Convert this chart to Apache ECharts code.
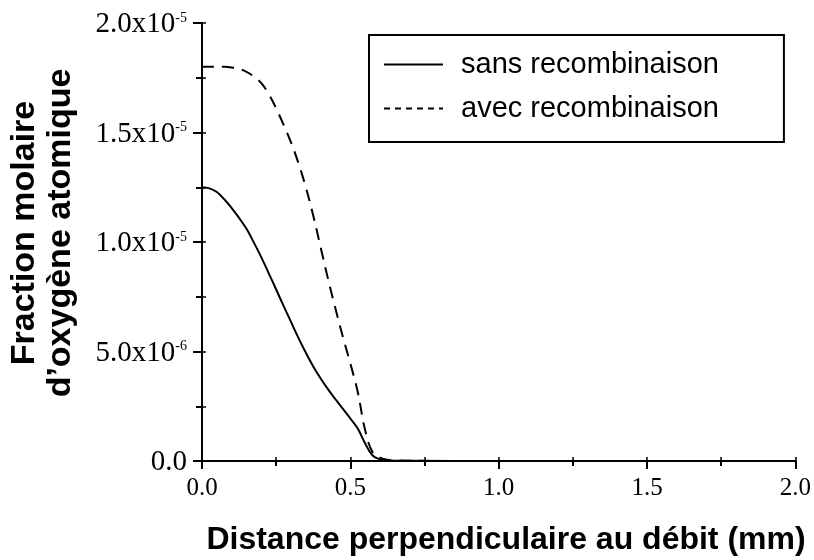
<!DOCTYPE html>
<html>
<head>
<meta charset="utf-8">
<script src="https://cdn.jsdelivr.net/npm/echarts/dist/echarts.min.js"></script>
<style>
html,body{margin:0;padding:0;background:#fff;}
#chart{width:814px;height:560px;}
</style>
</head>
<body>
<div id="chart"></div>
<script>
// distance (mm) / fraction molaire
var distSans = [0, 0.025, 0.05, 0.075, 0.1, 0.125, 0.15, 0.175, 0.2, 0.225, 0.25, 0.275, 0.3, 0.325, 0.35, 0.375, 0.4, 0.425, 0.45, 0.475, 0.5, 0.525, 0.55, 0.575, 0.6, 0.625, 0.65, 0.7, 1.0, 2.0];
var fracSans = [1.25e-5, 1.245e-5, 1.228e-5, 1.195e-5, 1.155e-5, 1.11e-5, 1.06e-5, 0.997e-5, 0.93e-5, 0.857e-5, 0.783e-5, 0.708e-5, 0.635e-5, 0.562e-5, 0.494e-5, 0.432e-5, 0.377e-5, 0.327e-5, 0.282e-5, 0.238e-5, 0.194e-5, 0.148e-5, 0.08e-5, 0.025e-5, 0.008e-5, 0.003e-5, 0.0015e-5, 0.001e-5, 0, 0];

var distAvec = [0, 0.025, 0.05, 0.075, 0.1, 0.125, 0.15, 0.175, 0.2, 0.225, 0.25, 0.275, 0.3, 0.325, 0.35, 0.375, 0.4, 0.425, 0.45, 0.475, 0.5, 0.525, 0.55, 0.575, 0.6, 0.625, 0.65, 0.7, 1.0, 2.0];
var fracAvec = [1.80e-5, 1.80e-5, 1.80e-5, 1.80e-5, 1.797e-5, 1.79e-5, 1.777e-5, 1.755e-5, 1.725e-5, 1.675e-5, 1.61e-5, 1.535e-5, 1.455e-5, 1.36e-5, 1.25e-5, 1.12e-5, 0.975e-5, 0.83e-5, 0.695e-5, 0.566e-5, 0.445e-5, 0.315e-5, 0.14e-5, 0.04e-5, 0.015e-5, 0.006e-5, 0.003e-5, 0.001e-5, 0, 0];

var seriesNames = ['sans recombinaison', 'avec recombinaison'];
var xTicks = ['0.0', '0.5', '1.0', '1.5', '2.0'];
var yTickMant = ['0.0', '5.0x10', '1.0x10', '1.5x10', '2.0x10'];
var yTickExp = ['', '-6', '-5', '-5', '-5'];

function pairs(xs, ys) {
	var out = [];
	for (var i = 0; i < xs.length; i++) {
		out.push([xs[i], ys[i]]);
	}
	return out;
}

var myChart = echarts.init(document.getElementById('chart'), null, {renderer: 'canvas'});

var serif = 'Liberation Serif';
var sans = 'Liberation Sans';

var option = {
	animation: false,
	backgroundColor: '#fff',
	grid: {
		left: 202,
		right: 17,
		top: 23,
		bottom: 99
	},
	legend: {
		orient: 'vertical',
		left: 369,
		top: 35,
		padding: [15, 65, 19, 14],
		borderColor: '#000',
		borderWidth: 2,
		itemWidth: 59,
		itemHeight: 30,
		itemGap: 15,
		itemStyle: {opacity: 0},
		textStyle: {
			fontFamily: sans,
			fontSize: 29,
			color: '#000',
			padding: [0, 0, 0, 13]
		},
		data: [
			{name: seriesNames[0]},
			{name: seriesNames[1], lineStyle: {type: [6, 5]}}
		]
	},
	xAxis: [{
		type: 'value',
		min: 0,
		max: 2,
		interval: 0.5,
		axisLine: {lineStyle: {color: '#000', width: 2}},
		axisTick: {inside: false, length: 8, lineStyle: {color: '#000', width: 2}},
		minorTick: {show: true, splitNumber: 2, length: 5, lineStyle: {color: '#000', width: 2}},
		splitLine: {show: false},
		axisLabel: {
			margin: 15,
			fontFamily: serif,
			fontSize: 25,
			color: '#000',
			formatter: function (v, idx) {
				return xTicks[idx];
			}
		}
	}, {
		type: 'value',
		position: 'top',
		min: 0,
		max: 2,
		interval: 0.5,
		axisLine: {lineStyle: {color: '#000', width: 2}},
		axisTick: {length: 4, lineStyle: {color: '#000', width: 1.5}},
		minorTick: {show: true, splitNumber: 2, length: 4, lineStyle: {color: '#000', width: 1.5}},
		splitLine: {show: false},
		axisLabel: {show: false}
	}],
	yAxis: [{
		type: 'value',
		min: 0,
		max: 2e-5,
		interval: 5e-6,
		axisLine: {show: true, lineStyle: {color: '#000', width: 2}},
		axisTick: {show: true, length: 9, lineStyle: {color: '#000', width: 2}},
		minorTick: {show: true, splitNumber: 2, length: 6, lineStyle: {color: '#000', width: 2}},
		splitLine: {show: false},
		axisLabel: {
			margin: 15,
			color: '#000',
			formatter: function (v, idx) {
				if (!yTickExp[idx]) {
					return '{b|' + yTickMant[idx] + '}';
				}
				return '{b|' + yTickMant[idx] + '}{s|' + yTickExp[idx] + '}';
			},
			rich: {
				b: {fontFamily: serif, fontSize: 29, color: '#000', verticalAlign: 'bottom', lineHeight: 32},
				s: {fontFamily: serif, fontSize: 14, color: '#000', verticalAlign: 'bottom', lineHeight: 32, padding: [0, 0, 14, 0]}
			}
		}
	}, {
		type: 'value',
		position: 'right',
		min: 0,
		max: 2e-5,
		interval: 5e-6,
		axisLine: {show: true, lineStyle: {color: '#000', width: 2}},
		axisTick: {show: true, length: 4, lineStyle: {color: '#000', width: 1.5}},
		minorTick: {show: true, splitNumber: 2, length: 4, lineStyle: {color: '#000', width: 1.5}},
		splitLine: {show: false},
		axisLabel: {show: false}
	}],
	graphic: [{
		type: 'text',
		x: 43,
		y: 233,
		rotation: Math.PI / 2,
		style: {
			text: 'Fraction molaire\nd\u2019oxygène atomique',
			fontFamily: sans,
			fontWeight: 'bold',
			fontSize: 34,
			lineHeight: 36,
			fill: '#000',
			align: 'center',
			verticalAlign: 'middle'
		}
	}, {
		type: 'text',
		x: 506,
		y: 540,
		style: {
			text: 'Distance perpendiculaire au débit (mm)',
			fontFamily: sans,
			fontWeight: 'bold',
			fontSize: 32,
			fill: '#000',
			align: 'center',
			verticalAlign: 'middle'
		}
	}],
	series: [{
		name: seriesNames[0],
		type: 'line',
		data: pairs(distSans, fracSans),
		symbol: 'none',
		smooth: 0.4,
		lineStyle: {color: '#000', width: 2, type: 'solid'},
		itemStyle: {color: '#000'}
	}, {
		name: seriesNames[1],
		type: 'line',
		data: pairs(distAvec, fracAvec),
		symbol: 'none',
		smooth: 0.4,
		lineStyle: {color: '#000', width: 2, type: [12, 8]},
		itemStyle: {color: '#000'}
	}]
};

myChart.setOption(option);
</script>
</body>
</html>
